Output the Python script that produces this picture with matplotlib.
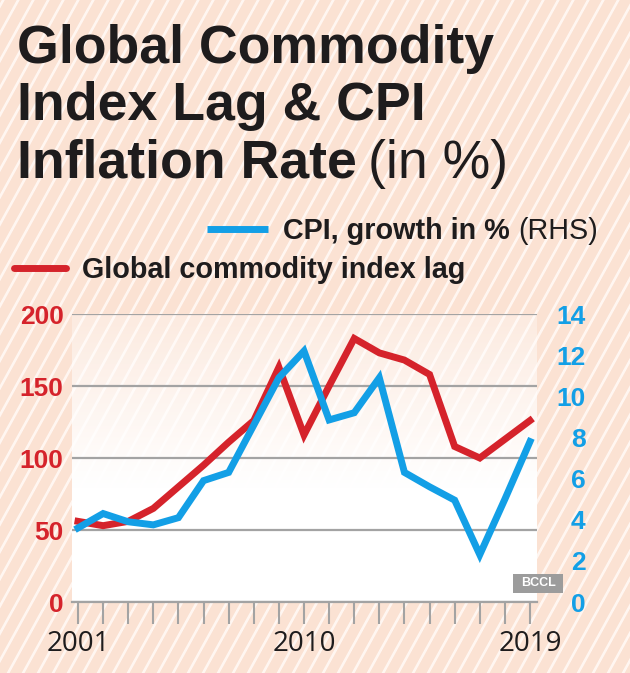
import matplotlib
matplotlib.use("Agg")
import matplotlib.pyplot as plt
import numpy as np
from matplotlib.lines import Line2D
from matplotlib.patches import Rectangle

# data
years = list(range(2001, 2020))
commodity_lag = [56, 53, 56, 65, 80, 95, 111, 126, 163, 116, 150, 183, 173, 168, 158, 108, 100, 113, 126]
cpi_growth = [3.6, 4.3, 3.9, 3.75, 4.1, 5.9, 6.3, 8.6, 10.9, 12.2, 8.85, 9.2, 10.9, 6.3, 5.6, 4.95, 2.3, 5.0, 7.8]
left_ticks = [0, 50, 100, 150, 200]
right_ticks = [0, 2, 4, 6, 8, 10, 12, 14]
shown_years = [2001, 2010, 2019]

RED = "#d5232b"
BLUE = "#139fe6"
GREY = "#a3a3a3"
INK = "#1e1c1d"
FONT = ["Liberation Sans", "DejaVu Sans"]

W, H = 630, 673
fig = plt.figure(figsize=(W / 100, H / 100), dpi=100)

# striped peach background
yy, xx = np.mgrid[0:H, 0:W]
phase = (xx + 0.55 * yy) % 15
t = np.clip(2.0 - np.abs(phase - 2.5), 0, 1)[..., None]
peach = np.array([251, 226, 211]) / 255
white = np.array([255, 246, 241]) / 255
img = peach * (1 - t) + white * t
bg = fig.add_axes([0, 0, 1, 1], zorder=-10)
bg.imshow(img, extent=(0, W, H, 0), aspect="auto")
bg.set_xlim(0, W)
bg.set_ylim(H, 0)
bg.axis("off")

def px(x, y):
    return x / W, 1 - y / H

# main axes
ax = fig.add_axes([72 / W, 1 - 602 / H, (537 - 72) / W, (602 - 314) / H])
ax.patch.set_visible(False)
x0, x1 = 2001 - 6 / 25.1, 2019 + 7 / 25.1

# white fade over the plot area
v = np.linspace(200, 0, 200)
alpha = np.clip(0.3 + (200 - v) / 120 * 0.7, 0, 1)
fade = np.ones((200, 2, 4))
fade[..., 3] = alpha[:, None]
ax.imshow(fade, extent=(x0, x1, 0, 200), aspect="auto", zorder=0)

ax.plot(years, commodity_lag, color=RED, lw=5, solid_joinstyle="miter", zorder=2)
ax.set_xlim(x0, x1)
ax.set_ylim(0, 200)
ax.set_axisbelow(True)
ax.yaxis.grid(True, color=GREY, lw=1.6)
for s in ["top", "left", "right"]:
    ax.spines[s].set_visible(False)
ax.spines["bottom"].set_color(GREY)
ax.spines["bottom"].set_linewidth(1.6)

ax.set_xticks(years, labels=[str(y) if y in shown_years else "" for y in years],
              fontsize=20, color=INK, family=["Open Sans", "DejaVu Sans"])
ax.tick_params(axis="x", length=16, width=1.5, color=GREY, pad=4)
ax.set_yticks(left_ticks, labels=[str(v) for v in left_ticks],
              fontsize=19, fontweight="bold", color=RED, family=FONT)
ax.tick_params(axis="y", length=0, pad=6)

ax2 = ax.twinx()
ax2.plot(years, cpi_growth, color=BLUE, lw=5, solid_joinstyle="miter", zorder=3)
ax2.set_ylim(0, 14)
ax2.set_xlim(x0, x1)
for s in ax2.spines.values():
    s.set_visible(False)
ax2.set_yticks(right_ticks, labels=[str(v) for v in right_ticks],
               fontsize=19, fontweight="bold", color=BLUE, family=FONT, ha="right")
ax2.tick_params(axis="y", length=0, pad=35)

renderer = fig.canvas.get_renderer()

def fit(txt, width):
    w = txt.get_window_extent(renderer).width
    txt.set_fontsize(txt.get_fontsize() * width / w)

# title
t1 = fig.text(*px(17, 63), "Global Commodity", fontsize=38, weight="bold",
              family=FONT, color=INK, va="baseline")
fit(t1, 476)
fs = t1.get_fontsize()
fig.text(*px(17, 120), "Index Lag & CPI", fontsize=fs, weight="bold",
         family=FONT, color=INK, va="baseline")
t3 = fig.text(*px(17, 178), "Inflation Rate", fontsize=fs, weight="bold",
              family=FONT, color=INK, va="baseline")
bb = t3.get_window_extent(renderer)
fig.text((bb.x1 + 11) / W, 1 - 178 / H, "(in %)", fontsize=fs,
         family=FONT, color=INK, va="baseline")

# legend
fig.add_artist(Line2D([207 / W, 268 / W], [1 - 229 / H] * 2, transform=fig.transFigure,
                      color=BLUE, lw=5, solid_capstyle="butt"))
fig.add_artist(Line2D([14 / W, 66 / W], [1 - 268 / H] * 2, transform=fig.transFigure,
                      color=RED, lw=5, solid_capstyle="round"))
lb = fig.text(*px(283, 239), "CPI, growth in % ", fontsize=20, weight="bold",
              family=FONT, color=INK, va="baseline")
lr = fig.text(*px(82, 278), "Global commodity index lag", fontsize=20, weight="bold",
              family=FONT, color=INK, va="baseline")
fit(lr, 383)
lb.set_fontsize(lr.get_fontsize())
bb = lb.get_window_extent(renderer)
fig.text(bb.x1 / W, 1 - 239 / H, "(RHS)", fontsize=lr.get_fontsize(),
         family=FONT, color=INK, va="baseline")

# watermark
fig.add_artist(Rectangle((513 / W, 1 - 593 / H), 50 / W, 19 / H,
                         transform=fig.transFigure, fc="#9c9c9c", ec="none"))
fig.text(538 / W, 1 - 583.5 / H, "BCCL", fontsize=9, weight="bold", color="white",
         family=FONT, ha="center", va="center")

fig.savefig("out.png", dpi=100)
